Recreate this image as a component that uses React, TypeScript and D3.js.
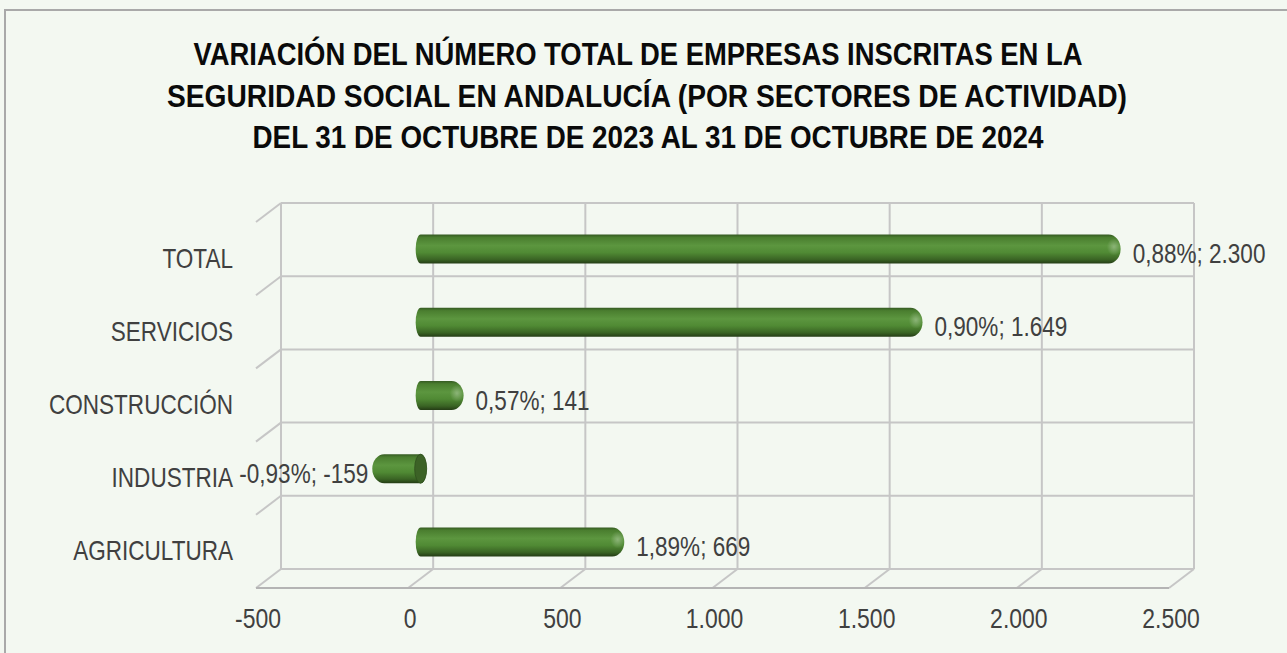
import React, { useEffect } from "react";
import * as d3 from "d3";

const categories = ["TOTAL", "SERVICIOS", "CONSTRUCCIÓN", "INDUSTRIA", "AGRICULTURA"];
const values = [2300, 1649, 141, -159, 669];
const percents = ["0,88%", "0,90%", "0,57%", "-0,93%", "1,89%"];
const xTicks = [-500, 0, 500, 1000, 1500, 2000, 2500];
const titleLines = [
  "VARIACIÓN DEL NÚMERO TOTAL DE EMPRESAS INSCRITAS EN LA",
  "SEGURIDAD SOCIAL EN ANDALUCÍA (POR SECTORES DE ACTIVIDAD)",
  "DEL 31 DE OCTUBRE DE 2023  AL 31 DE OCTUBRE DE 2024",
];
const titleWidths = [889, 960, 791];
const titleCenters = [638, 647, 648];

const W = 1287;
const H = 653;
const FONT = "'Liberation Sans', Arial, sans-serif";
const NARROW = 0.82;

const locale = d3.formatLocale({ decimal: ",", thousands: ".", grouping: [3], currency: ["", "€"], minus: "-" });
const fmt = locale.format(",");

function NarrowText(props: {
  x: number;
  y: number;
  anchor: "start" | "middle" | "end";
  size: number;
  children: string;
}) {
  return (
    <text
      transform={`translate(${props.x},${props.y}) scale(${NARROW},1)`}
      textAnchor={props.anchor}
      fontFamily={FONT}
      fontSize={props.size}
      fill="#404040"
    >
      {props.children}
    </text>
  );
}

export default function App() {
  useEffect(() => {
    document.body.style.margin = "0";
    document.body.style.overflow = "hidden";
  }, []);

  const x = d3.scaleLinear().domain([-500, 2500]).range([281, 1194]);
  const y = d3.scaleBand<string>().domain(categories).range([203, 569]).paddingInner(0).paddingOuter(0);
  const dx = -25;
  const dy = 19;
  const bw = y.bandwidth();
  const barH = 29;
  const r = barH / 2;
  const rc = 12;
  const rl = 5;
  const grid = "#c6c6c6";

  const [xMin, xMax] = x.range();
  const yTop = y.range()[0];
  const yBot = y.range()[1];
  const boundaries = categories.map((c) => y(c) as number);

  return (
    <svg width={W} height={H} style={{ position: "absolute", left: 0, top: 0, display: "block" }}>
      <defs>
        <linearGradient id="barGrad" x1="0" y1="0" x2="0" y2="1">
          <stop offset="0" stopColor="#355a22" />
          <stop offset="0.1" stopColor="#4a7e2f" />
          <stop offset="0.38" stopColor="#5c963f" />
          <stop offset="0.62" stopColor="#508a34" />
          <stop offset="0.86" stopColor="#3a6424" />
          <stop offset="1" stopColor="#243c15" />
        </linearGradient>
        <radialGradient id="hl" cx="0.5" cy="0.5" r="0.5">
          <stop offset="0" stopColor="#ffffff" stopOpacity="0.3" />
          <stop offset="1" stopColor="#ffffff" stopOpacity="0" />
        </radialGradient>
      </defs>
      <rect x={0} y={0} width={W} height={H} fill="#f3f8f1" />
      <rect x={5} y={10} width={W + 20} height={H + 20} fill="none" stroke="#a9a9a9" strokeWidth={2} />

      {titleLines.map((t, i) => (
        <text
          key={i}
          x={titleCenters[i]}
          y={65 + i * 41.5}
          textAnchor="middle"
          fontFamily={FONT}
          fontWeight="bold"
          fontSize={32}
          fill="#0a0a0a"
          textLength={titleWidths[i]}
          lengthAdjust="spacingAndGlyphs"
        >
          {t}
        </text>
      ))}

      {/* back wall */}
      <g stroke={grid} strokeWidth={2} fill="none">
        {boundaries.concat([yBot]).map((b, i) => (
          <line key={"h" + i} x1={xMin} x2={xMax} y1={b} y2={b} />
        ))}
        {xTicks.map((t) => (
          <line key={"v" + t} x1={x(t)} x2={x(t)} y1={yTop} y2={yBot} />
        ))}
        {boundaries.map((b, i) => (
          <line key={"d" + i} x1={xMin} y1={b} x2={xMin + dx} y2={b + dy} />
        ))}
        {xTicks.map((t) => (
          <line key={"f" + t} x1={x(t)} y1={yBot} x2={x(t) + dx} y2={yBot + dy} />
        ))}
        <line x1={xMin + dx} x2={xMax + dx} y1={yBot + dy} y2={yBot + dy} stroke="#b4b4b4" />
      </g>

      {/* bars */}
      {categories.map((c, i) => {
        const v = values[i];
        const cy = (y(c) as number) + bw / 2 + dy / 2;
        const x0 = x(0) + dx / 2;
        const xv = x(v) + dx / 2;
        if (v >= 0) {
          const p = `M${x0},${cy - r} L${xv - rc},${cy - r} A${rc},${r} 0 0 1 ${xv - rc},${cy + r} L${x0},${cy + r} A${rl},${r} 0 0 1 ${x0},${cy - r} Z`;
          return (
            <g key={c}>
              <path d={p} fill="url(#barGrad)" />
              <ellipse cx={xv - rc * 0.55} cy={cy - r * 0.15} rx={rc * 0.6} ry={r * 0.6} fill="url(#hl)" />
            </g>
          );
        } else {
          const p = `M${x0},${cy - r} L${xv + rc},${cy - r} A${rc},${r} 0 0 0 ${xv + rc},${cy + r} L${x0},${cy + r} A${rl + 1},${r} 0 0 0 ${x0},${cy - r} Z`;
          return (
            <g key={c}>
              <path d={p} fill="url(#barGrad)" />
              <ellipse cx={x0} cy={cy} rx={rl + 1} ry={r} fill="#3c6226" stroke="#2f4f1d" strokeWidth={0.8} />
            </g>
          );
        }
      })}

      {/* data labels */}
      {categories.map((c, i) => {
        const v = values[i];
        const cy = (y(c) as number) + bw / 2 + dy / 2;
        const xv = x(v) + dx / 2;
        const label = `${percents[i]}; ${fmt(v)}`;
        return (
          <NarrowText key={"l" + c} x={v >= 0 ? xv + 12 : xv - 4} y={cy + 14} anchor={v >= 0 ? "start" : "end"} size={27.5}>
            {label}
          </NarrowText>
        );
      })}

      {/* category labels */}
      {categories.map((c) => (
        <NarrowText key={"c" + c} x={233} y={(y(c) as number) + bw / 2 + dy + 9} anchor="end" size={27.5}>
          {c}
        </NarrowText>
      ))}

      {/* x tick labels */}
      {xTicks.map((t) => (
        <NarrowText key={"t" + t} x={x(t) + dx + 2} y={628} anchor="middle" size={28}>
          {fmt(t)}
        </NarrowText>
      ))}
    </svg>
  );
}
